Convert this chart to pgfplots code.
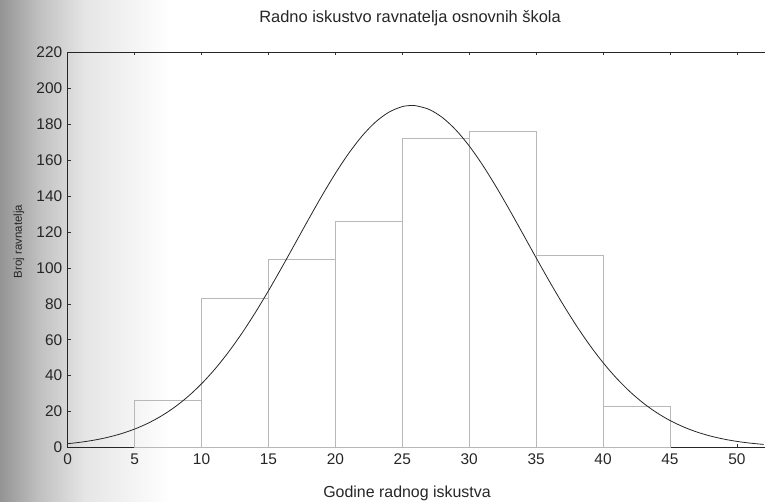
\documentclass[border=0pt]{standalone}
\usepackage{fontspec}
\setmainfont{Liberation Sans}
\usepackage{pgfplots}
\pgfplotsset{compat=1.18}
\pgfdeclarehorizontalshading{scan}{100bp}{color(0bp)=(black!42); color(25bp)=(black!42); color(37bp)=(black!24); color(50bp)=(black!10); color(75bp)=(white); color(100bp)=(white)}
\begin{document}
\begin{tikzpicture}
\path[use as bounding box] (0,0) rectangle (765bp,502bp);
\shade[shading=scan] (0,0) rectangle (170bp,502bp);
\begin{axis}[
  at={(67.7bp,54.5bp)}, anchor=south west,
  scale only axis, width=697.3bp, height=395bp,
  xmin=0, xmax=52.1, ymin=0, ymax=220,
  axis x line=box, axis y line=left,
  axis line style={black!85, line width=0.9pt, -},
  xtick={0,5,...,50}, ytick={0,20,...,220},
  tick align=inside,
  major tick length=3bp,
  tick style={black!80, line width=0.6pt},
  /pgf/number format/assume math mode=true,
  ticklabel style={font=\fontsize{15.5}{16}\selectfont, text=black!85},
  xticklabel style={yshift=-3bp},
  yticklabel style={xshift=-2bp},
  title={Radno iskustvo ravnatelja osnovnih škola},
  title style={at={(axis description cs:0.491,1.062)}, anchor=base, font=\fontsize{16.5}{17}\selectfont, text=black!85},
  xlabel={Godine radnog iskustva},
  xlabel style={at={(axis description cs:0.4866,-0.1278)}, anchor=base, font=\fontsize{16}{17}\selectfont, text=black!85},
  ylabel={Broj ravnatelja},
  ylabel style={at={(axis description cs:-0.0698,0.5215)}, anchor=center, font=\fontsize{11.5}{12}\selectfont, text=black!85},
  clip=false,
]
\addplot[ybar interval, draw=black!28, fill=none, line width=0.7pt] coordinates {
  (5,26) (10,83) (15,105) (20,126) (25,172) (30,176) (35,107) (40,23) (45,23)
};
\addplot[black!85, line width=0.8pt, smooth, mark=none] coordinates {
  (0,2.11) (1,2.98) (2,4.14) (3,5.68) (4,7.69) (5,10.27) (6,13.52) (7,17.57)
  (8,22.52) (9,28.47) (10,35.50) (11,43.68) (12,53.00) (13,63.46) (14,74.94)
  (15,87.30) (16,100.32) (17,113.73) (18,127.17) (19,140.28) (20,152.66)
  (21,163.87) (22,173.53) (23,181.27) (24,186.78) (25,189.87) (25.7,190.5)
  (26,190.38) (27,188.32) (28,183.75) (29,176.87) (30,167.94) (31,157.31)
  (32,145.34) (33,132.47) (34,119.12) (35,105.65) (36,92.43) (37,79.79)
  (38,67.93) (39,57.05) (40,47.27) (41,38.64) (42,31.15) (43,24.77)
  (44,19.44) (45,15.04) (46,11.49) (47,8.65) (48,6.43) (49,4.71) (50,3.40)
  (51,2.43) (52,1.71)
};
\end{axis}
\end{tikzpicture}
\end{document}
